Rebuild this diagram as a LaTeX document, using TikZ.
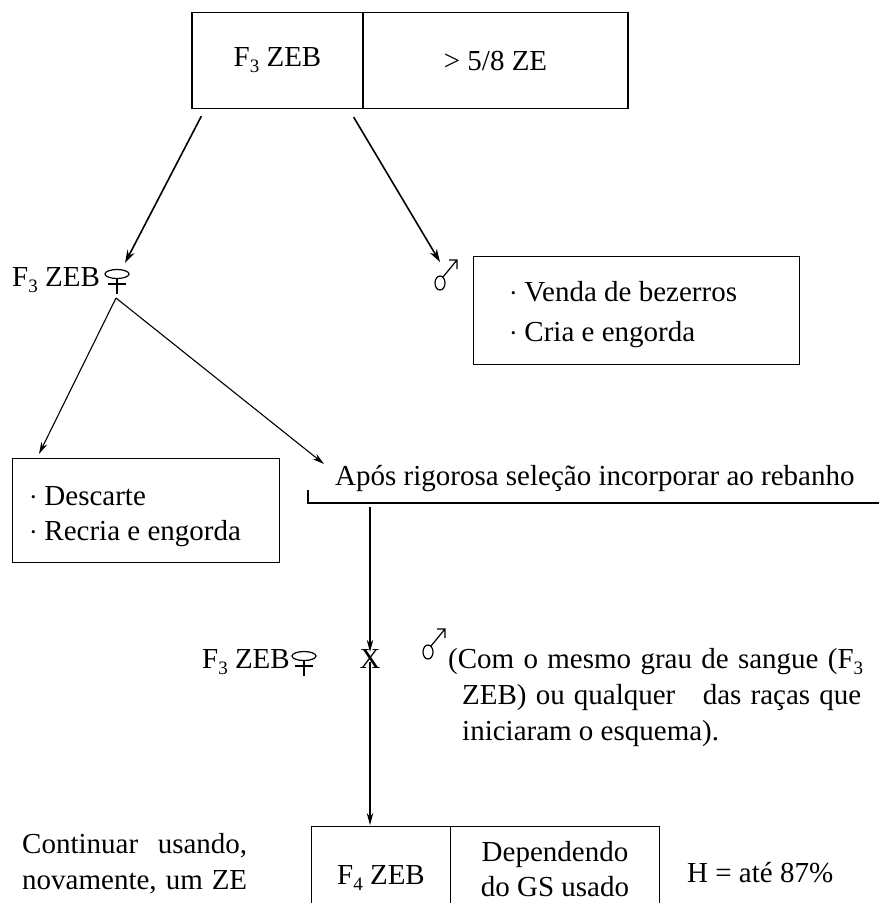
\documentclass[tikz,border=0pt]{standalone}
\usepackage{fontspec}
\setmainfont{Liberation Serif}
\usetikzlibrary{arrows.meta}
\newcommand\blt{\raisebox{0.25ex}{\scalebox{0.45}{\textbullet}}\hspace{0.3em}}
\newcommand\lowsub[1]{\raisebox{-6pt}{\fontsize{19}{19}\selectfont #1}}
\begin{document}
\begin{tikzpicture}[x=1pt,y=-1pt,
  every node/.style={font=\fontsize{29}{35}\selectfont, inner sep=0pt},
  box/.style={draw, line width=1.3pt},
  arr/.style={line width=1.6pt, -{Stealth[length=13pt,width=8pt]}},
  tarr/.style={line width=1.1pt, -{Stealth[length=12pt,width=6.5pt]}},
  lbl/.style={anchor=base west},
  sym/.style={line width=1.2pt},
  fem/.pic={\draw[sym] (0,0) ellipse [x radius=12, y radius=4.5];
            \draw[sym] (0,4.5) -- (0,20) (-9,10) -- (9,10);},
  masc/.pic={\draw[sym] (0,0) ellipse [x radius=5, y radius=7];
             \draw[sym] (3,-6) -- (17,-23) (9,-23) -- (17,-23) -- (17,-14);}]
\useasboundingbox (0,0) rectangle (879,903);

% generation F3 at the top
\node[box, minimum width=171pt, minimum height=96pt] (t1) at (277.5,60.5) {\raisebox{-3pt}{F\lowsub{3} ZEB}};
\node[box, minimum width=265pt, minimum height=96pt] (t2) at (495.5,60.5) {\raisebox{-3pt}{> 5/8 ZE}};

% females and males of F3
\node[lbl] (f1) at (12,286) {F\lowsub{3} ZEB};
\coordinate (fem1) at (117,274);
\pic at (fem1) {fem};
\coordinate (mal1) at (440,283);
\pic at (mal1) {masc};
\coordinate (c1) at (125,263);
\coordinate (c2) at (440,262);
\draw[arr] ([xshift=10pt,yshift=-7pt]t1.south west) -- (c1);
\draw[arr] ([xshift=-10pt,yshift=-8pt]t1.south east) -- (c2);

% destination of the males
\node[box, anchor=north west, minimum width=326pt, minimum height=108pt] (vb) at (473,256) {};
\node[lbl] (v1) at (511,301) {\blt Venda de bezerros};
\node[lbl] (v2) at (511,341) {\blt Cria e engorda};

% destination of the females
\coordinate (apex) at (116,298);
\coordinate (c3) at (39,454);
\coordinate (c4) at (324,464);
\draw[tarr] (apex) -- (c3);
\draw[tarr] (apex) -- (c4);
\node[box, anchor=north west, minimum width=267pt, minimum height=104pt] (db) at (12,458) {};
\node[lbl] (d1) at (31,505) {\blt Descarte};
\node[lbl] (d2) at (31,540) {\blt Recria e engorda};

\node[lbl] (ap) at (335,485) {Após rigorosa seleção incorporar ao rebanho};
\coordinate (br) at (308,490);
\coordinate (brend) at (879,503);
\draw[line width=1.3pt] (br) |- (brend);

% mating of the selected females
\node[anchor=base east] (f2) at (290,668) {F\lowsub{3} ZEB};
\coordinate (fem2) at (304,656);
\pic at (fem2) {fem};
\node[anchor=base] (x) at (370,668) {X};
\coordinate (mal2) at (428,652);
\pic at (mal2) {masc};
\node[lbl] (p1) at (448,668) {\makebox[415pt][s]{(Com o mesmo grau de sangue (F\lowsub{3}}};
\node[lbl] (p2) at (462,704) {\makebox[399pt][s]{ZEB) ou qualquer \ \ das raças que}};
\node[lbl] (p3) at (462,740) {iniciaram o esquema).};
\coordinate (v0) at (370,507);
\draw[tarr] (v0) -- ([yshift=-3pt]x.north);
\coordinate (v3) at (370,825);
\draw[tarr] ([yshift=6pt]x.base) -- (v3);

% generation F4
\node[box, anchor=north west, minimum width=139pt, minimum height=110pt] (b1) at (311,826) {};
\node[box, anchor=north west, minimum width=209pt, minimum height=110pt] (b2) at (450,826) {};
\node[anchor=base] (b1t) at (381,884) {F\lowsub{4} ZEB};
\node[anchor=base] (b2t) at (555,861) {Dependendo};
\node[anchor=base] (b2u) at (555,896) {do GS usado};
\node[lbl] (k1) at (22,853) {\makebox[225pt][s]{Continuar usando,}};
\node[lbl] (k2) at (22,889) {\makebox[225pt][s]{novamente, um ZE}};
\node[lbl] (h) at (687,882) {H = até 87\%};
\end{tikzpicture}
\end{document}
